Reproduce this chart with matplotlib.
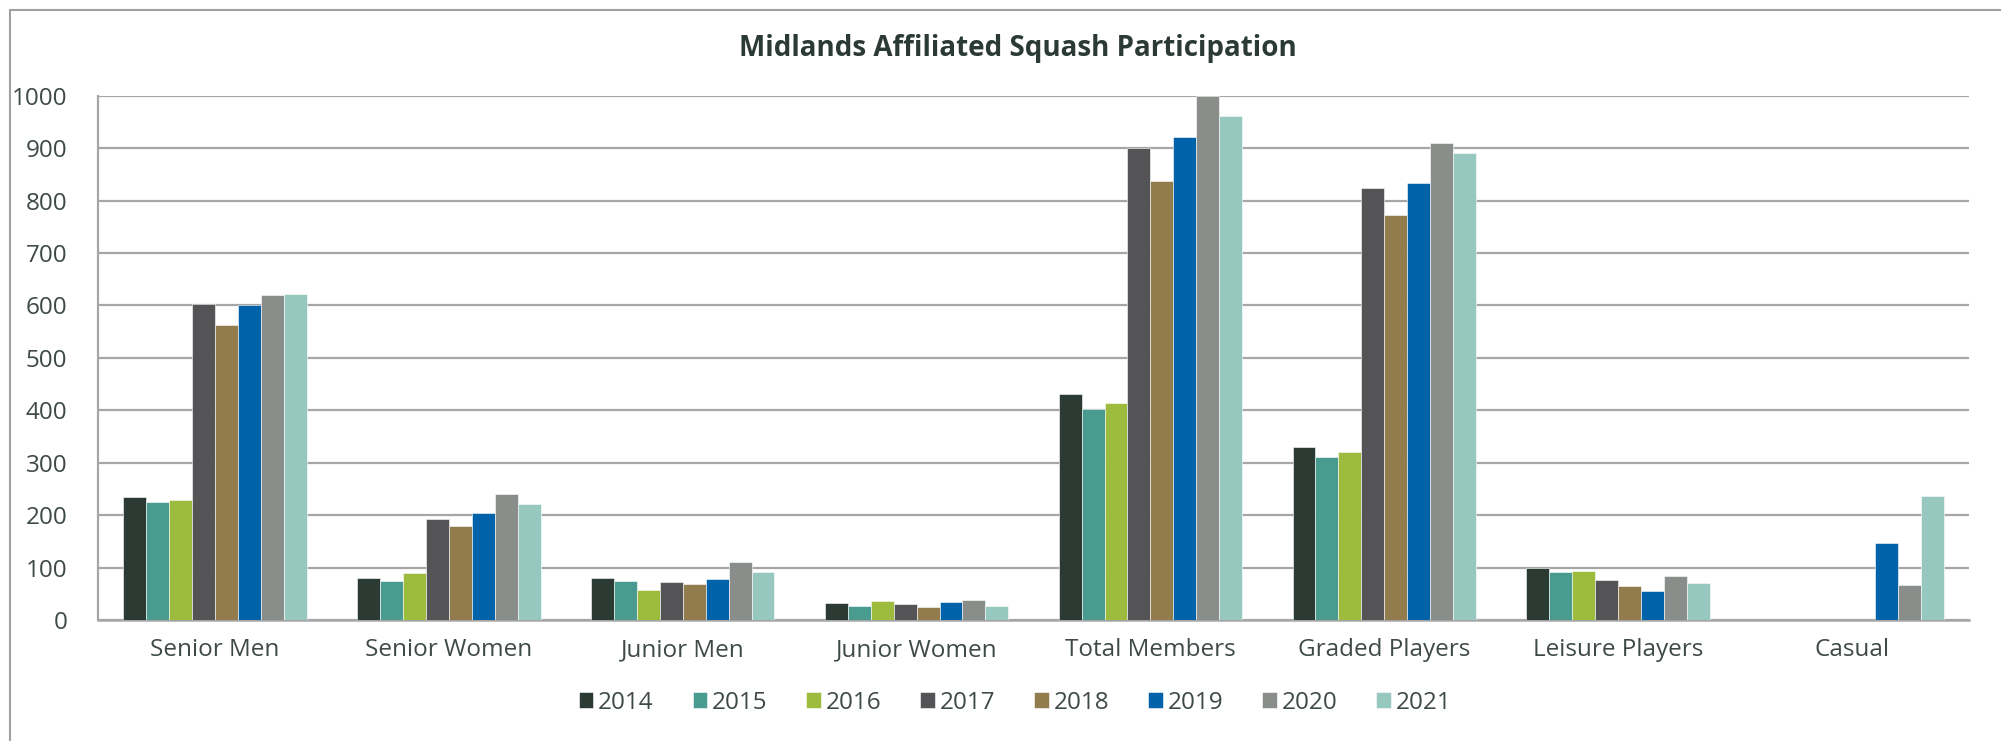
import numpy as np
import matplotlib
matplotlib.use("Agg")
import matplotlib.pyplot as plt
from matplotlib.patches import Rectangle

categories = ["Senior Men", "Senior Women", "Junior Men", "Junior Women",
              "Total Members", "Graded Players", "Leisure Players", "Casual"]
years = ["2014", "2015", "2016", "2017", "2018", "2019", "2020", "2021"]

y2014 = [235, 81, 80, 32, 432, 330, 100, np.nan]
y2015 = [225, 74, 74, 27, 403, 311, 91, np.nan]
y2016 = [229, 89, 57, 36, 414, 320, 93, np.nan]
y2017 = [602, 192, 72, 31, 901, 824, 76, np.nan]
y2018 = [563, 179, 69, 25, 838, 772, 64, np.nan]
y2019 = [600, 205, 79, 34, 921, 833, 55, 147]
y2020 = [620, 240, 110, 39, 1000, 910, 84, 66]
y2021 = [621, 221, 91, 26, 961, 890, 71, 236]
series = [y2014, y2015, y2016, y2017, y2018, y2019, y2020, y2021]

colors = ["#2B3A33", "#4A9B8F", "#9DBB3C", "#545456",
          "#927C4E", "#0063AA", "#8A8E8A", "#97C8BF"]

text_color = "#3E4A45"
grid_color = "#A6A6A6"
font = "Open Sans"

fig = plt.figure(figsize=(20.01, 7.41), dpi=100)
W, H = 2001, 741

# outer chart frame (open on the right and bottom)
fig.patches.append(Rectangle((10 / W, -0.1), 1.2, 1 - 10 / H + 0.1,
                             transform=fig.transFigure, fill=False,
                             edgecolor="#A0A0A0", linewidth=1.5))

ax = fig.add_axes([98 / W, 1 - 620 / H, (1969 - 98) / W, (620 - 95.7) / H])

n = len(series)
width = 1.0 / (n + 2.19)
x = np.arange(len(categories))
for i, (vals, col, yr) in enumerate(zip(series, colors, years)):
    ax.bar(x + (i - (n - 1) / 2) * width, vals, width, color=col,
           label=yr, edgecolor="white", linewidth=0.4, zorder=3)

ax.set_xlim(-0.5, len(categories) - 0.5)
ax.set_ylim(0, 1000)
ax.set_yticks(np.arange(0, 1001, 100))
ax.yaxis.grid(True, color=grid_color, linewidth=1.6, zorder=0)
ax.set_axisbelow(True)

for side in ["top", "right"]:
    ax.spines[side].set_visible(False)
ax.spines["left"].set_color(grid_color)
ax.spines["left"].set_linewidth(1.6)
ax.spines["bottom"].set_color(grid_color)
ax.spines["bottom"].set_linewidth(1.8)

ax.set_xticks(x)
ax.set_xticklabels(categories)
ax.tick_params(axis="both", length=0, labelcolor=text_color, labelsize=17.5)
ax.tick_params(axis="y", pad=22)
ax.tick_params(axis="x", pad=13)
for lab in ax.get_xticklabels() + ax.get_yticklabels():
    lab.set_fontfamily(font)

fig.text(1018 / W, 1 - 48.5 / H, "Midlands Affiliated Squash Participation",
         ha="center", va="center", fontsize=20, fontweight="bold",
         color="#2B3A33", family=font)

leg = fig.legend(loc="center", bbox_to_anchor=(1015 / W, 1 - 702.7 / H),
                 ncol=n, frameon=False, handlelength=0.6, handleheight=0.6,
                 handletextpad=0.2, columnspacing=1.6,
                 prop={"family": font, "size": 17.5})
for t in leg.get_texts():
    t.set_color(text_color)

fig.savefig("out.png", dpi=100, facecolor="white")
